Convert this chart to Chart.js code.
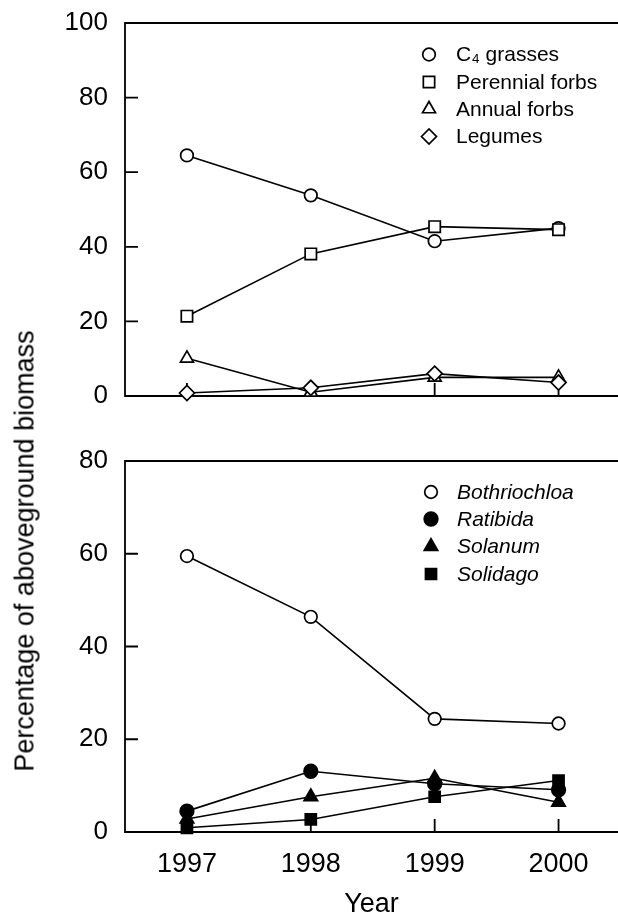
<!DOCTYPE html>
<html>
<head>
<meta charset="utf-8">
<title>Aboveground biomass</title>
<script src="https://cdn.jsdelivr.net/npm/chart.js@4.4.1/dist/chart.umd.min.js"></script>
<style>
  html, body { margin: 0; padding: 0; background: #fff; overflow: hidden; }
  #wrap { position: relative; width: 618px; height: 915px; }
  #yTitle {
    position: absolute; left: 25px; top: 551px;
    transform: translate(-50%, -50%) rotate(-90deg);
    font: 27px "Liberation Sans", Arial, sans-serif;
    white-space: nowrap; color: #000;
  }
</style>
</head>
<body>
<div id="wrap">
  <canvas id="topChart" width="618" height="420" style="position:absolute;left:0;top:0;"></canvas>
  <canvas id="bottomChart" width="618" height="475" style="position:absolute;left:0;top:440px;"></canvas>
  <div id="yTitle">Percentage of aboveground biomass</div>
</div>
<script>
  // values
  const years = [1997, 1998, 1999, 2000];

  const c4Grasses = [64.5, 53.8, 41.5, 45.0];
  const perennialForbs = [21.4, 38.1, 45.4, 44.6];
  const annualForbs = [10.1, 1.0, 5.0, 5.0];
  const legumes = [0.8, 2.2, 6.0, 3.6];

  const bothriochloa = [59.5, 46.4, 24.4, 23.4];
  const ratibida = [4.5, 13.1, 10.4, 9.1];
  const solanum = [2.8, 7.6, 11.6, 6.4];
  const solidago = [0.9, 2.7, 7.6, 11.1];

  const topTicks = [0, 20, 40, 60, 80, 100];
  const bottomTicks = [0, 20, 40, 60, 80];

  const FONT = '"Liberation Sans", Arial, sans-serif';
  Chart.defaults.font.family = FONT;
  Chart.defaults.color = '#000';

  function series(label, values, style, radius, fill, order) {
    return {
      label,
      data: years.map((yr, i) => ({ x: yr, y: values[i] })),
      pointStyle: style,
      pointRadius: radius,
      pointHoverRadius: radius,
      pointBackgroundColor: fill,
      pointBorderColor: '#000',
      pointBorderWidth: 1.7,
      borderColor: '#000',
      borderWidth: 1.6,
      tension: 0,
      clip: false,
      order,
    };
  }

  // left, top and bottom frame plus inward tick marks
  const frameAndTicks = {
    id: 'frameAndTicks',
    beforeDatasetsDraw(chart) {
      const { ctx, chartArea: a, scales: { x, y } } = chart;
      const len = 13;

      ctx.save();
      ctx.strokeStyle = '#000';
      ctx.lineWidth = 1.8;
      ctx.beginPath();
      ctx.moveTo(a.right + 4, a.top);
      ctx.lineTo(a.left, a.top);
      ctx.lineTo(a.left, a.bottom);
      ctx.lineTo(a.right + 4, a.bottom);

      y.ticks.forEach((t) => {
        const py = y.getPixelForValue(t.value);
        ctx.moveTo(a.left, py);
        ctx.lineTo(a.left + len, py);
      });

      years.forEach((yr) => {
        const px = x.getPixelForValue(yr);
        ctx.moveTo(px, a.bottom);
        ctx.lineTo(px, a.bottom - len);
      });

      ctx.stroke();
      ctx.restore();
    },
  };

  // legend drawn inside the plot area, top right
  const cornerLegend = {
    id: 'cornerLegend',
    afterDraw(chart, args, opts) {
      const { ctx } = chart;

      ctx.save();
      ctx.font = opts.fontStyle + ' 21px ' + FONT;
      ctx.textAlign = 'left';
      ctx.textBaseline = 'middle';
      ctx.strokeStyle = '#000';
      ctx.lineWidth = 1.7;

      chart.data.datasets.forEach((ds, i) => {
        const y = opts.rows[i];
        ctx.fillStyle = ds.pointBackgroundColor;
        Chart.helpers.drawPoint(ctx, {
          pointStyle: ds.pointStyle,
          radius: opts.radius[i],
          rotation: 0,
          borderWidth: 1.7,
        }, opts.markerX, y);
        ctx.fillStyle = '#000';
        ctx.fillText(ds.label, opts.textX, y + 1);
      });

      ctx.restore();
    },
  };

  function yAxis(ticks, max) {
    return {
      type: 'linear',
      min: 0,
      max,
      afterBuildTicks: (scale) => { scale.ticks = ticks.map((v) => ({ value: v })); },
      afterFit: (scale) => {
        scale.width = 125;
        scale.paddingTop = 0;
        scale.paddingBottom = 0;
      },
      grid: { display: false, drawTicks: false },
      border: { display: false },
      ticks: { font: { size: 26 }, padding: 17, color: '#000' },
    };
  }

  function xAxis(height, extra) {
    return Object.assign({
      type: 'linear',
      min: 1996.5,
      max: 2000.48,
      afterBuildTicks: (scale) => { scale.ticks = years.map((v) => ({ value: v })); },
      afterFit: (scale) => {
        scale.height = height;
        scale.paddingLeft = 0;
        scale.paddingRight = 0;
      },
      grid: { display: false, drawTicks: false },
      border: { display: false },
    }, extra);
  }

  new Chart(document.getElementById('topChart'), {
    type: 'line',
    data: {
      datasets: [
        series('C\u2084 grasses', c4Grasses, 'circle', 6.3, '#fff', 4),
        series('Perennial forbs', perennialForbs, 'rect', 8, '#fff', 3),
        series('Annual forbs', annualForbs, 'triangle', 7.5, '#fff', 2),
        series('Legumes', legumes, 'rectRot', 7.5, '#fff', 1),
      ],
    },
    options: {
      responsive: false,
      animation: false,
      events: [],
      layout: { autoPadding: false, padding: { top: 23, right: 0, bottom: 0, left: 0 } },
      scales: {
        x: xAxis(24, { ticks: { display: false } }),
        y: yAxis(topTicks, 100),
      },
      plugins: {
        legend: { display: false },
        tooltip: { enabled: false },
        cornerLegend: {
          fontStyle: 'normal',
          markerX: 429,
          textX: 456,
          rows: [54.5, 82, 109, 136.5],
          radius: [6.3, 8, 7.5, 7.5],
        },
      },
    },
    plugins: [frameAndTicks, cornerLegend],
  });

  new Chart(document.getElementById('bottomChart'), {
    type: 'line',
    data: {
      datasets: [
        series('Bothriochloa', bothriochloa, 'circle', 6.3, '#fff', 4),
        series('Ratibida', ratibida, 'circle', 6.8, '#000', 3),
        series('Solanum', solanum, 'triangle', 7.8, '#000', 2),
        series('Solidago', solidago, 'rect', 7.8, '#000', 1),
      ],
    },
    options: {
      responsive: false,
      animation: false,
      events: [],
      layout: { autoPadding: false, padding: { top: 21, right: 0, bottom: 0, left: 0 } },
      scales: {
        x: xAxis(83, {
          ticks: {
            font: { size: 27 },
            padding: 16,
            color: '#000',
            callback: (v) => String(v),
          },
          title: {
            display: true,
            text: 'Year',
            font: { size: 27, lineHeight: 0.8 },
            padding: { top: 0, bottom: 0 },
            color: '#000',
          },
        }),
        y: yAxis(bottomTicks, 80),
      },
      plugins: {
        legend: { display: false },
        tooltip: { enabled: false },
        cornerLegend: {
          fontStyle: 'italic',
          markerX: 431,
          textX: 457,
          rows: [52, 79, 106.5, 134],
          radius: [6.3, 6.8, 7.8, 7.8],
        },
      },
    },
    plugins: [frameAndTicks, cornerLegend],
  });
</script>
</body>
</html>
